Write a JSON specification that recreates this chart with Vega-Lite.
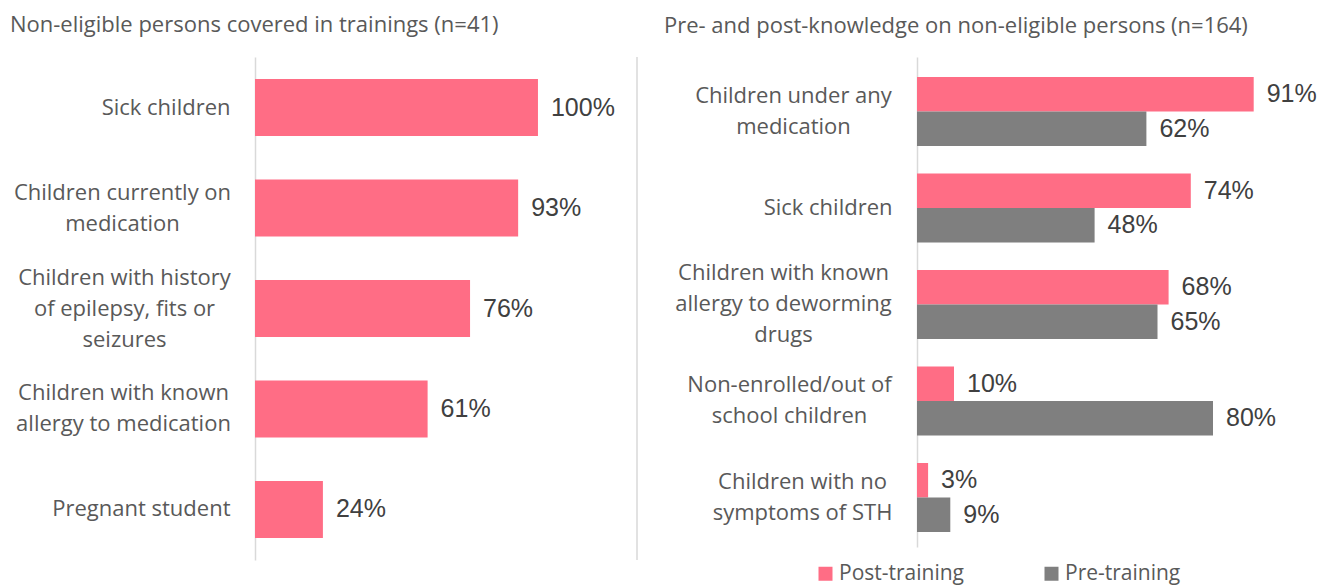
{
  "$schema": "https://vega.github.io/schema/vega-lite/v6.json",
  "padding": {"left": 10, "top": 14, "right": 0, "bottom": 12},
  "spacing": 26,
  "config": {"view": {"stroke": null}, "font": "Open Sans"},
  "resolve": {"scale": {"color": "independent"}, "legend": {"color": "independent"}},
  "hconcat": [
    {
      "title": {"text": "Non-eligible persons covered in trainings (n=41)", "anchor": "start", "frame": "group", "dx": -245, "fontSize": 22, "fontWeight": "normal", "color": "#595959", "offset": 19},
      "width": 382,
      "height": 503,
      "layer": [
        {
          "data": {"values": [
            {"cat": "Sick children", "value": 1.00},
            {"cat": "Children currently on|medication", "value": 0.93},
            {"cat": "Children with history|of epilepsy, fits or|seizures", "value": 0.76},
            {"cat": "Children with known|allergy to medication", "value": 0.61},
            {"cat": "Pregnant student", "value": 0.24}
          ]},
          "layer": [
            {"mark": {"type": "bar", "color": "#FF6D85"}},
            {"mark": {"type": "text", "align": "left", "baseline": "middle", "dx": 13, "font": "Liberation Sans", "fontSize": 25, "color": "#404040"},
             "encoding": {"text": {"field": "value", "type": "quantitative", "format": ".0%"}}}
          ],
          "encoding": {
            "y": {"field": "cat", "type": "nominal", "sort": null,
                  "scale": {"paddingInner": 0.433, "paddingOuter": 0.219},
                  "axis": {"title": null, "ticks": false, "domainColor": "#d9d9d9", "domainWidth": 1.5, "labelFontSize": 22, "labelColor": "#595959", "labelLimit": 300, "labelExpr": "split(datum.value, '|')", "labelLineHeight": 31,
                           "labelAlign": {"condition": {"test": "indexof(datum.value, '|') >= 0", "value": "center"}, "value": "right"},
                           "labelPadding": {"condition": [
                             {"test": "datum.value == 'Children currently on|medication'", "value": 133},
                             {"test": "datum.value == 'Children with history|of epilepsy, fits or|seizures'", "value": 131},
                             {"test": "datum.value == 'Children with known|allergy to medication'", "value": 132}
                           ], "value": 25},
                           "labelOffset": {"condition": [{"test": "length(split(datum.value, '|')) == 2", "value": -15.5}, {"test": "length(split(datum.value, '|')) == 3", "value": -31}], "value": 0}}},
            "x": {"field": "value", "type": "quantitative", "scale": {"domain": [0, 1.35], "nice": false}, "axis": null}
          }
        },
        {
          "data": {"values": [{"edge": 1.35}]},
          "mark": {"type": "rule", "color": "#d9d9d9", "strokeWidth": 1.5},
          "encoding": {"x": {"field": "edge", "type": "quantitative"}}
        }
      ]
    },
    {
      "title": {"text": "Pre- and post-knowledge on non-eligible persons (n=164)", "anchor": "start", "frame": "group", "dx": -253, "fontSize": 22, "fontWeight": "normal", "color": "#595959", "offset": 19},
      "width": 407,
      "height": 490,
      "data": {"values": [
        {"cat": "Children under any|medication", "series": "Post-training", "value": 0.91},
        {"cat": "Children under any|medication", "series": "Pre-training", "value": 0.62},
        {"cat": "Sick children", "series": "Post-training", "value": 0.74},
        {"cat": "Sick children", "series": "Pre-training", "value": 0.48},
        {"cat": "Children with known|allergy to deworming|drugs", "series": "Post-training", "value": 0.68},
        {"cat": "Children with known|allergy to deworming|drugs", "series": "Pre-training", "value": 0.65},
        {"cat": "Non-enrolled/out of|school children", "series": "Post-training", "value": 0.10},
        {"cat": "Non-enrolled/out of|school children", "series": "Pre-training", "value": 0.80},
        {"cat": "Children with no|symptoms of STH", "series": "Post-training", "value": 0.03},
        {"cat": "Children with no|symptoms of STH", "series": "Pre-training", "value": 0.09}
      ]},
      "encoding": {
        "y": {"field": "cat", "type": "nominal", "sort": null,
              "scale": {"paddingInner": 0.285, "paddingOuter": 0.181, "align": 0.571},
              "axis": {"title": null, "ticks": false, "domainColor": "#d9d9d9", "domainWidth": 1.5, "labelFontSize": 22, "labelColor": "#595959", "labelLimit": 300, "labelExpr": "split(datum.value, '|')", "labelLineHeight": 31,
                       "labelAlign": {"condition": {"test": "indexof(datum.value, '|') >= 0", "value": "center"}, "value": "right"},
                       "labelPadding": {"condition": [
                         {"test": "datum.value == 'Children under any|medication'", "value": 124},
                         {"test": "datum.value == 'Children with known|allergy to deworming|drugs'", "value": 134},
                         {"test": "datum.value == 'Non-enrolled/out of|school children'", "value": 128},
                         {"test": "datum.value == 'Children with no|symptoms of STH'", "value": 115}
                       ], "value": 25},
                       "labelOffset": {"condition": [{"test": "length(split(datum.value, '|')) == 2", "value": -15.5}, {"test": "length(split(datum.value, '|')) == 3", "value": -31}], "value": 0}}},
        "yOffset": {"field": "series", "type": "nominal", "sort": ["Post-training", "Pre-training"], "scale": {"paddingInner": 0, "paddingOuter": 0}},
        "x": {"field": "value", "type": "quantitative", "scale": {"domain": [0, 1.1], "nice": false}, "axis": null}
      },
      "layer": [
        {"mark": {"type": "bar"},
         "encoding": {"color": {"field": "series", "type": "nominal",
           "scale": {"domain": ["Post-training", "Pre-training"], "range": ["#FF6D85", "#7F7F7F"]},
           "legend": {"orient": "none", "legendX": -102, "legendY": 506, "direction": "horizontal", "title": null, "symbolType": "square", "symbolSize": 196, "symbolStrokeWidth": 0, "labelFontSize": 21, "labelColor": "#595959", "columnPadding": 76, "labelOffset": 3}}}},
        {"mark": {"type": "text", "align": "left", "baseline": "middle", "dx": 13, "font": "Liberation Sans", "fontSize": 25, "color": "#404040"},
         "encoding": {"text": {"field": "value", "type": "quantitative", "format": ".0%"}}}
      ]
    }
  ]
}
